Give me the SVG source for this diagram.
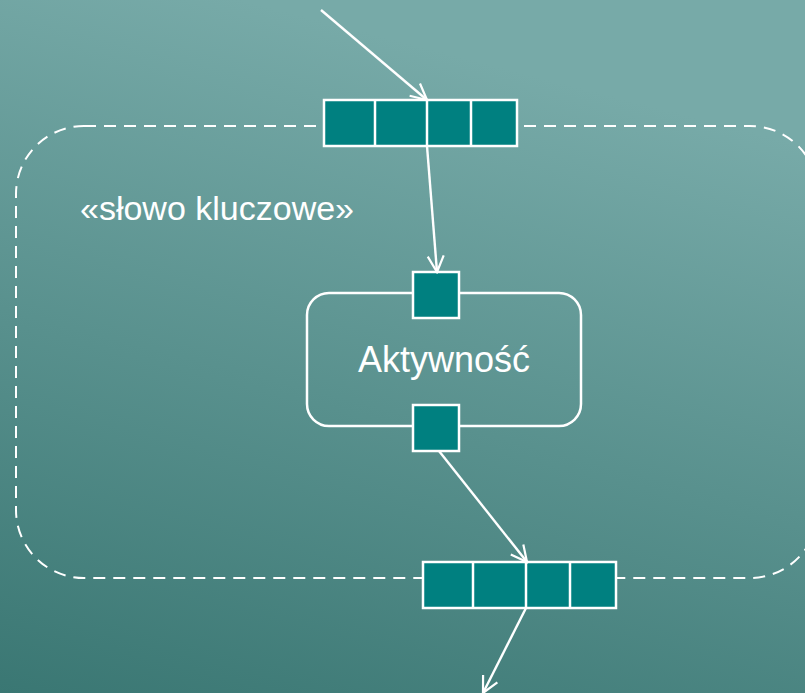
<svg xmlns="http://www.w3.org/2000/svg" width="805" height="693" viewBox="0 0 805 693">
<defs>
<linearGradient id="bg" x1="0.3" y1="0" x2="0" y2="1">
<stop offset="0" stop-color="#77aaa8"/>
<stop offset="1" stop-color="#3a7773"/>
</linearGradient>
<marker id="arr" viewBox="0 0 20 20" refX="18" refY="10" markerWidth="20" markerHeight="20" markerUnits="userSpaceOnUse" orient="auto">
<path d="M2,2 L18,10 L2,18" fill="none" stroke="#fff" stroke-width="2.2"/>
</marker>
<style>
text{font-family:"Liberation Sans",Arial,sans-serif;fill:#fff}
.box{fill:#008080;stroke:#fff;stroke-width:2.5}
.ln{stroke:#fff;stroke-width:2.5;fill:none}
.conn{stroke:#fff;stroke-width:2.4;fill:none;marker-end:url(#arr)}
</style>
</defs>
<rect width="805" height="693" fill="url(#bg)"/>
<g id="region">
<rect x="16" y="126" width="802" height="452" rx="68" fill="none" stroke="#fff" stroke-width="2" stroke-dasharray="12,8"/>
<text x="80" y="220" font-size="34">«słowo kluczowe»</text>
</g>
<g id="activity">
<rect x="307" y="293" width="274" height="133" rx="22" class="ln"/>
<text x="444" y="372" font-size="36" text-anchor="middle">Aktywność</text>
</g>
<g id="pin-in">
<rect x="413" y="272" width="46" height="46" class="box"/>
</g>
<g id="pin-out">
<rect x="413" y="405" width="46" height="46" class="box"/>
</g>
<g id="buffer-in">
<rect x="324" y="100" width="193" height="46" class="box"/>
<line x1="375" y1="100" x2="375" y2="146" class="ln"/>
<line x1="427" y1="100" x2="427" y2="146" class="ln"/>
<line x1="471" y1="100" x2="471" y2="146" class="ln"/>
</g>
<g id="buffer-out">
<rect x="423" y="562" width="193" height="46" class="box"/>
<line x1="473" y1="562" x2="473" y2="608" class="ln"/>
<line x1="526" y1="562" x2="526" y2="608" class="ln"/>
<line x1="570" y1="562" x2="570" y2="608" class="ln"/>
</g>
<g id="connectors">
<line x1="321" y1="10" x2="427" y2="100" class="conn"/>
<line x1="427" y1="146" x2="437" y2="272" class="conn"/>
<line x1="439" y1="451" x2="527" y2="562" class="conn"/>
<line x1="526" y1="608" x2="483" y2="693" class="conn"/>
</g>
</svg>
